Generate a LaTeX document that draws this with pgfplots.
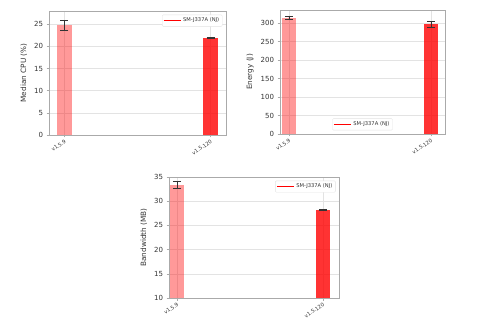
\documentclass[border=0pt]{standalone}
\usepackage{pgfplots}
\pgfplotsset{compat=1.18}
\usepackage{fontspec}
\setmainfont{DejaVu Sans}
\definecolor{spine}{HTML}{AAAAAA}
\definecolor{gridc}{HTML}{E3E3E3}
\definecolor{txt}{HTML}{333333}
\pgfplotsset{
  panel/.style={
    scale only axis,
    anchor=south west,
    axis line style={spine, line width=0.6pt},
    grid=both,
    major grid style={gridc, line width=0.5pt},
    tick align=outside,
    tick pos=left,
    major tick length=2.5pt,
    tick style={spine, line width=0.5pt},
    xtick={0,1},
    xticklabels={v1.5.9, v1.5.120},
    x tick label style={rotate=35, anchor=north east, font=\fontsize{5.2}{6}\selectfont, text=txt, inner sep=1pt},
    y tick label style={font=\fontsize{7}{8}\selectfont, text=txt},
    ylabel style={font=\fontsize{7.3}{8}\selectfont, text=txt},
    /pgf/number format/assume math mode=true,
    legend style={font=\fontsize{5.2}{6}\selectfont, draw=gridc, rounded corners=1pt, inner sep=1pt, text=txt},
    legend cell align=left,
    ymin=0,
  },
  errs/.style={error bars/.cd, y dir=both, y explicit, error mark=|, error mark options={mark size=4pt, line width=0.6pt, draw=txt, fill opacity=1, draw opacity=1}, error bar style={line width=0.6pt, draw=txt, opacity=1}},
  barA/.style={ybar, bar width=0.1, bar shift=0pt, fill=red, fill opacity=0.4, draw=none, errs},
  barB/.style={ybar, bar width=0.1, bar shift=0pt, fill=red, fill opacity=0.8, draw=none, errs},
}
\begin{document}
\begin{tikzpicture}[x=1pt,y=1pt]
\useasboundingbox (0,0) rectangle (479,332);
% Panel 1
\begin{axis}[panel, at={(49pt,197pt)}, width=177pt, height=124pt,
  xmin=-0.106, xmax=1.106, ymax=28, ytick={0,5,...,25},
  ylabel={Median CPU (\%)},
  legend style={at={(0.98,0.97)}, anchor=north east}]
\addlegendimage{red, line width=0.8pt}
\addlegendentry{SM-J337A (NJ)}
\addplot[barA] coordinates {(0,24.8) +- (0,1.1)};
\addplot[barB] coordinates {(1,22.0) +- (0,0.12)};
\end{axis}
% Panel 2
\begin{axis}[panel, at={(280pt,198pt)}, width=165pt, height=124pt,
  xmin=-0.063, xmax=1.1, ymax=336, ytick={0,50,...,300},
  ylabel={Energy (J)},
  legend style={at={(0.5,0.03)}, anchor=south}]
\addlegendimage{red, line width=0.8pt}
\addlegendentry{SM-J337A (NJ)}
\addplot[barA] coordinates {(0,315) +- (0,4.5)};
\addplot[barB] coordinates {(1,297) +- (0,8)};
\end{axis}
% Panel 3
\begin{axis}[panel, at={(169pt,34pt)}, width=170pt, height=121pt,
  xmin=-0.055, xmax=1.11, ymin=10, ymax=35, ytick={10,15,...,35},
  ylabel={Bandwidth (MB)},
  legend style={at={(0.98,0.97)}, anchor=north east}]
\addlegendimage{red, line width=0.8pt}
\addlegendentry{SM-J337A (NJ)}
\addplot[barA] coordinates {(0,33.4) +- (0,0.7)};
\addplot[barB] coordinates {(1,28.2) +- (0,0.12)};
\end{axis}
\end{tikzpicture}
\end{document}
